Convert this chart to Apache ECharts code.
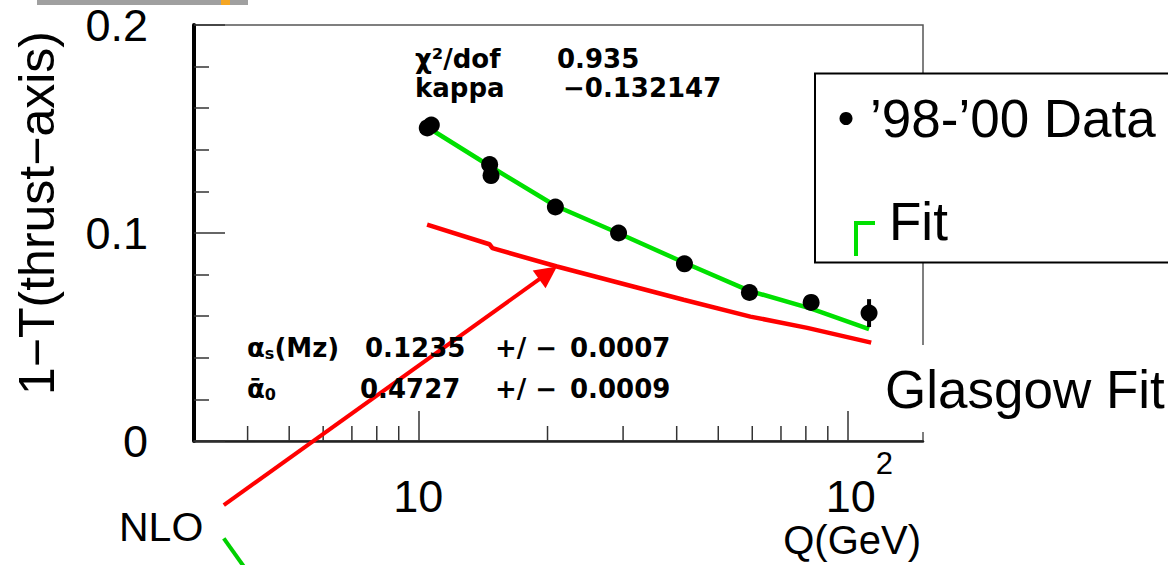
<!DOCTYPE html>
<html><head><meta charset="utf-8">
<script src="https://cdn.jsdelivr.net/npm/echarts@6/dist/echarts.min.js"></script>
<style>html,body{margin:0;padding:0;background:#fff}#c{width:1168px;height:565px}</style>
</head><body><div id="c"></div>
<script>
// ---- data ----
const dataQ   = [10.49, 10.72, 14.66, 14.77, 20.86, 29.28, 41.7, 59.1, 82.3, 112.3];
const dataT   = [0.1505, 0.1519, 0.1329, 0.1276, 0.1125, 0.1000, 0.0852, 0.0714, 0.0666, 0.0615];
const dataErr = [0.002, 0.002, 0.002, 0.002, 0.002, 0.002, 0.002, 0.002, 0.002, 0.0067];
const fitQ = [10.55, 14.66, 20.86, 29.28, 41.7, 59.1, 82.3, 112.3];
const fitT = [0.1506, 0.1322, 0.1131, 0.0999, 0.0857, 0.0722, 0.0636, 0.0538];
const nloQ = [10.48, 14.64, 14.88, 21.04, 41.5, 59.4, 80.6, 113.6];
const nloT = [0.1040, 0.0946, 0.0927, 0.0839, 0.0679, 0.0598, 0.0544, 0.0473];
const xMajorTicks = [10, 100];
const xMinorTicks = [4, 5, 6, 7, 8, 9, 20, 30, 40, 50, 60, 70, 80, 90];
const yTickLabels = ['0', '0.1', '0.2'];
const arrowNLO = [[3.52, -0.0308], [20.06, 0.0808]];
const arrowGlasgow = [[3.52, -0.0468], [4.10, -0.0660]];

const zip = (a, b) => a.map((v, i) => [v, b[i]]);
const SANS = '"Liberation Sans", Arial, sans-serif';
const DJ = '"DejaVu Sans", sans-serif';

const chart = echarts.init(document.getElementById('c'), null, {renderer: 'svg'});

function annText(x, y, text, rich) {
  return {type: 'text', x: x, y: y, z: 110,
    style: {text: text, fill: '#000', font: 'bold 26px ' + DJ, lineHeight: 26, verticalAlign: 'middle', rich: rich}};
}
const subRich = {
  a: {fontSize: 26, fontFamily: DJ, fontWeight: 'bold', verticalAlign: 'bottom', lineHeight: 26},
  s: {fontSize: 16, fontFamily: DJ, fontWeight: 'bold', verticalAlign: 'bottom', lineHeight: 20},
  n: {fontSize: 26, fontFamily: DJ, fontWeight: 'bold', verticalAlign: 'bottom', lineHeight: 26}
};

chart.setOption({
  animation: false,
  backgroundColor: '#fff',
  grid: {left: 194, right: 245, top: 25, bottom: 124, show: true, borderColor: '#555', borderWidth: 1.5},
  xAxis: {
    type: 'log', logBase: 10, min: 3, max: 150,
    axisLine: {lineStyle: {color: '#222', width: 2.5}},
    axisTick: {show: true, inside: true, length: 30, customValues: xMajorTicks, lineStyle: {color: '#333', width: 1.5}},
    axisLabel: {
      customValues: xMajorTicks, margin: 7, color: '#000',
      formatter: v => (Math.abs(v - 100) < 1e-6 ? '{c|10}{p|2}' : (Math.abs(v - 10) < 1e-6 ? '{b|10}' : '')),
      rich: {
        b: {fontSize: 45, fontFamily: SANS, color: '#000', verticalAlign: 'bottom', lineHeight: 71},
        c: {fontSize: 45, fontFamily: SANS, color: '#000', verticalAlign: 'bottom', lineHeight: 71, padding: [0, 0, 0, 24]},
        p: {fontSize: 31, fontFamily: SANS, color: '#000', verticalAlign: 'top', lineHeight: 31}
      }
    },
    splitLine: {show: false},
    name: 'Q(GeV)', nameLocation: 'end', nameGap: -2, nameMoveOverlap: false,
    nameTextStyle: {fontSize: 40, fontFamily: SANS, color: '#000', align: 'right', verticalAlign: 'top', padding: [79, 0, 0, 0]}
  },
  yAxis: {
    type: 'value', min: 0, max: 0.2, interval: 0.1,
    axisLine: {show: true, lineStyle: {color: '#000', width: 4}},
    axisTick: {show: true, inside: true, length: 31, lineStyle: {color: '#333', width: 1.5}},
    minorTick: {show: true, splitNumber: 5, length: 15, lineStyle: {color: '#333', width: 1.5}},
    axisLabel: {fontSize: 45, fontFamily: SANS, color: '#000', margin: 46,
      formatter: (v) => yTickLabels[Math.round(v * 10)]},
    splitLine: {show: false},
    name: '1\u2212T(thrust\u2212axis)', nameLocation: 'middle', nameGap: 132, nameMoveOverlap: false,
    nameTextStyle: {fontSize: 50, fontFamily: SANS, color: '#000', padding: [0, 0, 0, 40]}
  },
  series: [
    {type: 'custom', name: 'minorTicks', silent: true, clip: false, z: 3,
      data: xMinorTicks.map(v => [v, 0]),
      renderItem: (params, api) => {
        const p = api.coord([api.value(0), api.value(1)]);
        return {type: 'line', shape: {x1: p[0], y1: p[1], x2: p[0], y2: p[1] - 15},
          style: {stroke: '#333', lineWidth: 1.5}};
      }},
    {type: 'line', name: 'NLO', data: zip(nloQ, nloT), showSymbol: false, symbol: 'none',
      lineStyle: {color: '#ff0000', width: 4.5}, z: 4},
    {type: 'line', name: 'Fit', data: zip(fitQ, fitT), showSymbol: false, symbol: 'none',
      lineStyle: {color: '#00e000', width: 4.5}, z: 5},
    {type: 'custom', name: 'errors', z: 6,
      data: dataQ.map((q, i) => [q, dataT[i] - dataErr[i], dataT[i] + dataErr[i]]),
      renderItem: (params, api) => {
        const lo = api.coord([api.value(0), api.value(1)]);
        const hi = api.coord([api.value(0), api.value(2)]);
        return {type: 'line', shape: {x1: lo[0], y1: lo[1], x2: hi[0], y2: hi[1]},
          style: {stroke: '#000', lineWidth: 4}};
      }},
    {type: 'scatter', name: '\u201998-\u201900 Data', data: zip(dataQ, dataT), symbol: 'circle', symbolSize: 17,
      itemStyle: {color: '#000', opacity: 1}, z: 7},
    {type: 'lines', coordinateSystem: 'cartesian2d', clip: false, z: 8,
      symbol: ['none', 'triangle'], symbolSize: [24, 22],
      lineStyle: {color: '#ff0000', width: 4, opacity: 1},
      data: [{coords: arrowNLO}]},
    {type: 'lines', coordinateSystem: 'cartesian2d', clip: false, z: 8,
      symbol: ['none', 'none'],
      lineStyle: {color: '#00d000', width: 4, opacity: 1},
      data: [{coords: arrowGlasgow}]}
  ],
  graphic: [
    {type: 'rect', z: 100, shape: {x: 37, y: 0, width: 211, height: 5}, style: {fill: '#a0a0a0'}},
    {type: 'rect', z: 101, shape: {x: 221, y: 0, width: 9, height: 5}, style: {fill: '#f5a623'}},
    // legend box
    {type: 'rect', z: 100, shape: {x: 815, y: 73.5, width: 420, height: 189}, style: {fill: '#fff', stroke: '#000', lineWidth: 2}},
    {type: 'circle', z: 101, shape: {cx: 846, cy: 118.5, r: 6.5}, style: {fill: '#000'}},
    {type: 'text', z: 101, x: 870, y: 118, style: {text: '\u201998-\u201900 Data', font: '53px ' + SANS, fill: '#000', verticalAlign: 'middle'}},
    {type: 'polyline', z: 101, shape: {points: [[856, 256], [856, 223], [875, 223]]}, style: {stroke: '#00e000', lineWidth: 4, fill: null}},
    {type: 'text', z: 101, x: 889, y: 221, style: {text: 'Fit', font: '53px ' + SANS, fill: '#000', verticalAlign: 'middle'}},
    // Glasgow Fit label
    {type: 'rect', z: 100, shape: {x: 877, y: 345, width: 291, height: 87}, style: {fill: '#fff'}},
    {type: 'text', z: 101, x: 885, y: 389, style: {text: 'Glasgow Fit', font: '53px ' + SANS, fill: '#000', verticalAlign: 'middle'}},
    {type: 'text', z: 101, x: 119, y: 527, style: {text: 'NLO', font: '41px ' + SANS, fill: '#000', verticalAlign: 'middle'}},
    // fit results
    annText(415, 59, '\u03C7\u00B2/dof'),
    annText(557, 59, '0.935'),
    annText(415, 88, 'kappa'),
    annText(563, 88, '\u22120.132147'),
    annText(247, 348, '{a|\u03B1}{s|s}{n|(Mz)}', subRich),
    annText(365, 348, '0.1235'),
    annText(495, 348, '+/ \u2212'),
    annText(570, 348, '0.0007'),
    annText(247, 389, '{a|\u1FB1}{s|0}', subRich),
    annText(360, 389, '0.4727'),
    annText(495, 389, '+/ \u2212'),
    annText(570, 389, '0.0009')
  ]
});
</script>
</body></html>
